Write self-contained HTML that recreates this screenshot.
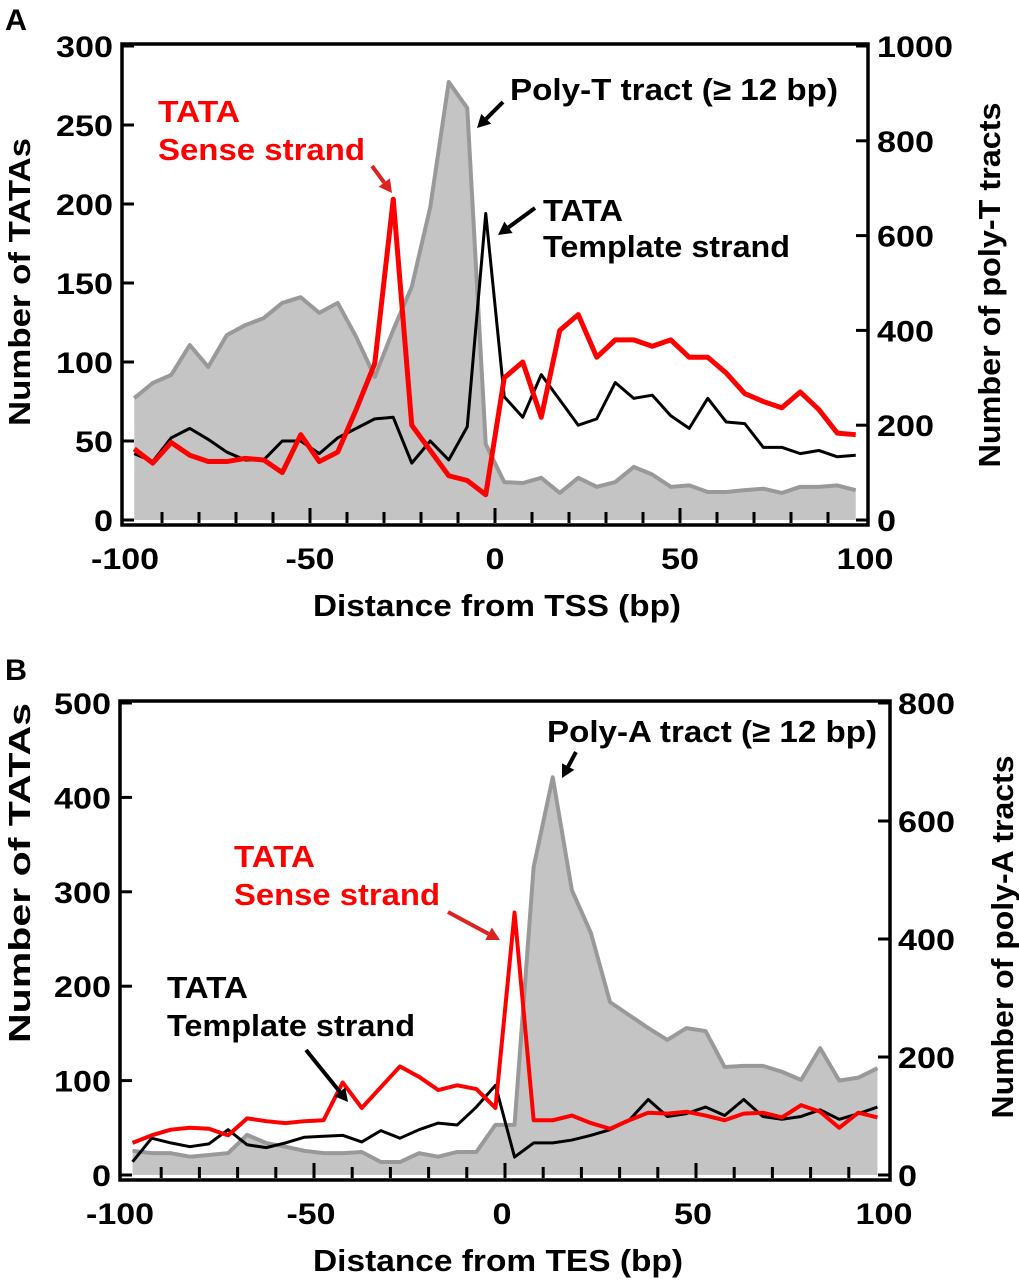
<!DOCTYPE html>
<html><head><meta charset="utf-8"><style>
html,body{margin:0;padding:0;background:#fff}
svg{display:block;font-family:"Liberation Sans",Arial,sans-serif;font-weight:bold}
</style></head><body>
<svg id="chart" width="1019" height="1280" viewBox="0 0 1019 1280" xmlns="http://www.w3.org/2000/svg">
<g id="pa"></g>
<g id="pb"></g>
</svg>
<script>
// Bin centers (bp)
const binCenters = [];
for (let i = 0; i < 40; i++) binCenters.push(-97.5 + 5 * i);

// Panel A data
const aSense = [45,36,49,41,37,37,39,38,30,54,37,43,70,99,203,60,44,28,25,16,90,100,65,120,130,103,114,114,110,114,103,103,93,80,75,71,81,70,55,54];
const aTemplate = [42,37,52,58,51,43,38,38,50,50,42,52,58,64,65,36,50,38,59,194,78,65,92,76,60,64,87,77,79,66,58,77,62,61,46,46,42,44,40,41];
const aPolyT = [257,289,306,369,323,390,411,426,458,470,437,458,386,302,401,492,660,924,869,160,80,78,89,57,89,70,80,112,96,70,73,59,59,63,66,57,70,70,73,63];
const aLeftTicks = [0,50,100,150,200,250,300];
const aRightTicks = [0,200,400,600,800,1000];

// Panel B data
const bSense = [34,42,48,50,49,42,60,57,55,57,58,98,71,93,115,104,90,95,91,71,278,58,58,63,55,49,58,66,65,67,63,58,65,66,61,74,67,50,66,61];
const bTemplate = [14,39,34,30,33,48,32,29,34,40,41,42,35,47,39,48,55,53,72,95,19,34,34,37,42,48,58,80,62,65,72,63,80,62,59,62,69,59,65,72];
const bPolyA = [41,37,37,31,34,37,68,54,48,41,37,37,39,22,22,37,31,39,39,85,85,522,674,483,410,293,271,249,229,249,244,183,185,185,175,161,215,160,165,181];
const bLeftTicks = [0,100,200,300,400,500];
const bRightTicks = [0,200,400,600,800];

const xTicks = [-100,-50,0,50,100];

const NS = "http://www.w3.org/2000/svg";
function mk(parent, tag, attrs, text) {
  const e = document.createElementNS(NS, tag);
  for (const k in attrs) e.setAttribute(k, attrs[k]);
  if (text !== undefined) e.textContent = text;
  parent.appendChild(e);
  return e;
}
function numLen(s) { let w = 0; for (const c of s) w += (c === "-" ? 11 : 19); return w; }

function panel(g, cfg) {
  const X = d => cfg.x0 + (d + 100) * (cfg.x1 - cfg.x0) / 200;
  const YL = v => cfg.yb - v * (cfg.yb - cfg.yt) / cfg.lmax;
  const YR = v => cfg.yb - v * (cfg.yb - cfg.yt) / cfg.rmax;
  let d = "M" + X(binCenters[0]) + "," + cfg.yb;
  cfg.gray.forEach((v, i) => { d += " L" + X(binCenters[i]) + "," + YR(v); });
  d += " L" + X(binCenters[binCenters.length - 1]) + "," + cfg.yb + " Z";
  const area = mk(g, "path", {d: d, fill: "#c4c4c4", stroke: "none"});
  
  
  const gl = mk(g, "polyline", {points: cfg.gray.map((v, i) => X(binCenters[i]) + "," + YR(v)).join(" "), fill: "none", stroke: "#999", "stroke-width": 4, "stroke-linejoin": "round"});
  
  
  const tl = mk(g, "polyline", {points: cfg.template.map((v, i) => X(binCenters[i]) + "," + YL(v)).join(" "), fill: "none", stroke: "#000", "stroke-width": 3, "stroke-linejoin": "round"});
  
  
  const sl = mk(g, "polyline", {points: cfg.sense.map((v, i) => X(binCenters[i]) + "," + YL(v)).join(" "), fill: "none", stroke: "#f00", "stroke-width": cfg.sw, "stroke-linejoin": "round"});
  
  
  const fr = mk(g, "rect", {x: cfg.x0 - 3, y: cfg.yt - 2, width: cfg.x1 - cfg.x0 + 6, height: cfg.yb - cfg.yt + 7, fill: "none", stroke: "#000", "stroke-width": 3.5});
  
  
  const fs = 30;
  cfg.lticks.forEach(v => {
    mk(g, "line", {x1: cfg.x0 - 3, x2: cfg.x0 + 9, y1: YL(v), y2: YL(v), stroke: "#000", "stroke-width": 3});
    const s = String(v);
    const t = mk(g, "text", {x: cfg.x0 - 12, y: YL(v) + 11, "font-size": fs, "text-anchor": "end", textLength: numLen(s), lengthAdjust: "spacingAndGlyphs"}, s);
    
    
  });
  cfg.rticks.forEach(v => {
    mk(g, "line", {x1: cfg.x1 + 3, x2: cfg.x1 - 9, y1: YR(v), y2: YR(v), stroke: "#000", "stroke-width": 3});
    const s = String(v);
    const t = mk(g, "text", {x: cfg.x1 + cfg.rlo, y: YR(v) + 11, "font-size": fs, textLength: numLen(s), lengthAdjust: "spacingAndGlyphs"}, s);
    
    
  });
  for (let v = -90; v < 100; v += 10) {
    const major = v % 50 === 0;
    mk(g, "line", {x1: X(v), x2: X(v), y1: cfg.yb + 3, y2: cfg.yb - (major ? 12 : 8), stroke: "#000", "stroke-width": 3});
  }
  xTicks.forEach(v => {
    const s = String(v);
    const t = mk(g, "text", {x: X(v) + cfg.xlo - numLen(s) / 2, y: cfg.yb + 49, "font-size": fs, textLength: numLen(s), lengthAdjust: "spacingAndGlyphs"}, s);
    
    
  });
  const xt = mk(g, "text", {x: cfg.xtx - cfg.xtl / 2, y: cfg.yb + 96, "font-size": 31, textLength: cfg.xtl, lengthAdjust: "spacingAndGlyphs"}, cfg.xtitle);
  
  
  const yl = mk(g, "text", {x: -cfg.yll / 2, y: 0, "font-size": 31, textLength: cfg.yll, lengthAdjust: "spacingAndGlyphs", transform: "translate(" + cfg.ylx + "," + cfg.ymid + ") rotate(-90)"}, "Number of TATAs");
  
  
  const yr = mk(g, "text", {x: -cfg.yrl / 2, y: 0, "font-size": 31, textLength: cfg.yrl, lengthAdjust: "spacingAndGlyphs", transform: "translate(" + cfg.yrx + "," + cfg.yrmid + ") rotate(-90)"}, cfg.rtitle);
  
  
}

panel(document.getElementById("pa"), {x0:125, x1:865, yt:46, yb:520, lmax:300, rmax:1000,
  sense:aSense, template:aTemplate, gray:aPolyT, lticks:aLeftTicks, rticks:aRightTicks, sw:5,
  xtitle:"Distance from TSS (bp)", rtitle:"Number of poly-T tracts", xtx:497, xtl:368,
  ylx:30, ymid:282, yll:288, yrx:1000, yrmid:285, yrl:365, xlo:0, rlo:12});
panel(document.getElementById("pb"), {x0:123, x1:887, yt:703, yb:1175, lmax:500, rmax:800,
  sense:bSense, template:bTemplate, gray:bPolyA, lticks:bLeftTicks, rticks:bRightTicks, sw:4,
  xtitle:"Distance from TES (bp)", rtitle:"Number of poly-A tracts", xtx:498, xtl:370,
  ylx:30, ymid:873, yll:340, yrx:1013, yrmid:937, yrl:363, xlo:-3, rlo:11});

const svg = document.getElementById("chart");
function txt(x, y, s, fill, name, len, size) {
  const t = mk(svg, "text", {x: x, y: y, "font-size": size || 31, fill: fill, textLength: len, lengthAdjust: "spacingAndGlyphs"}, s);
  
  
}
function arrow(x1, y1, x2, y2, col, name) {
  const g = mk(svg, "g", {});
  
  
  const a = Math.atan2(y2 - y1, x2 - x1), L = 13, W = 7;
  const bx = x2 - L * Math.cos(a), by = y2 - L * Math.sin(a);
  mk(g, "line", {x1: x1, y1: y1, x2: bx, y2: by, stroke: col, "stroke-width": 4});
  mk(g, "polygon", {points: x2 + "," + y2 + " " + (bx - W * Math.sin(a)) + "," + (by + W * Math.cos(a)) + " " + (bx + W * Math.sin(a)) + "," + (by - W * Math.cos(a)), fill: col});
}
txt(5, 30, "A", "#000", "panel-a-label", 22, 30);
txt(5, 680, "B", "#000", "panel-b-label", 22, 30);
txt(158, 122, "TATA", "#f00", "sense-label-a", 82);
txt(158, 160, "Sense strand", "#f00", "sense-strand-label-a", 207);
arrow(372, 166, 392, 193, "#d22", "sense-arrow-a");
txt(510, 100, "Poly-T tract (\u2265 12 bp)", "#000", "poly-t-label", 328);
arrow(503, 102, 477, 128, "#000", "poly-t-arrow");
txt(543, 221, "TATA", "#000", "template-label-a", 80);
txt(543, 257, "Template strand", "#000", "template-strand-label-a", 247);
arrow(535, 208, 498, 235, "#000", "template-arrow-a");
txt(547, 742, "Poly-A tract (\u2265 12 bp)", "#000", "poly-a-label", 330);
arrow(576, 752, 562, 778, "#000", "poly-a-arrow");
txt(234, 867, "TATA", "#f00", "sense-label-b", 81);
txt(234, 905, "Sense strand", "#f00", "sense-strand-label-b", 206);
arrow(448, 912, 500, 940, "#d22", "sense-arrow-b");
txt(167, 998, "TATA", "#000", "template-label-b", 81);
txt(167, 1036, "Template strand", "#000", "template-strand-label-b", 248);
arrow(306, 1050, 348, 1102, "#000", "template-arrow-b");
</script>
</body></html>
